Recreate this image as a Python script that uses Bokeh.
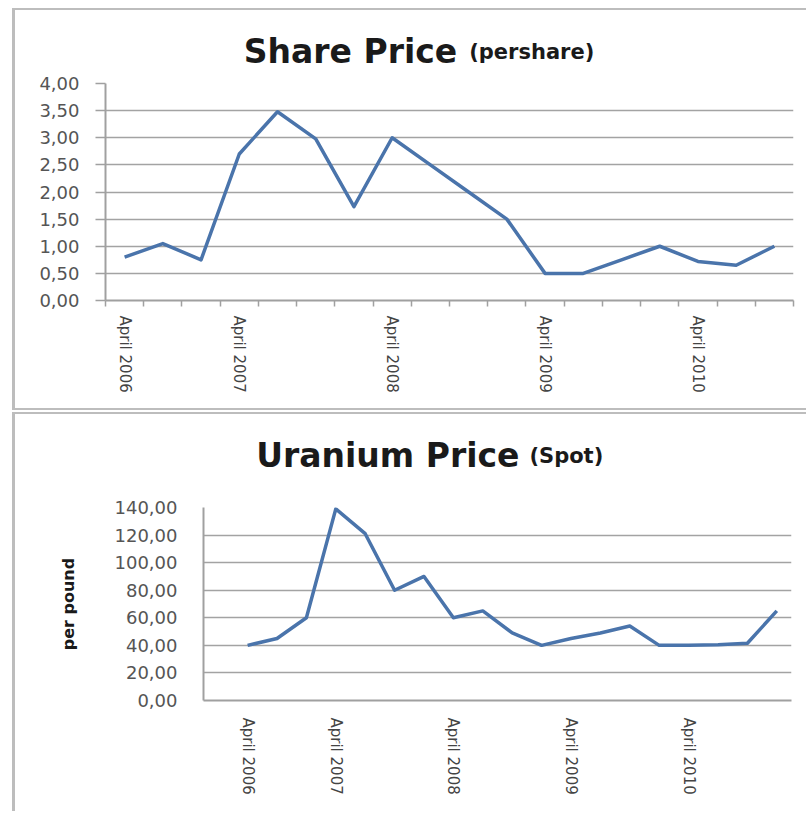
from bokeh.plotting import figure
from bokeh.models import (Range1d, FixedTicker, CustomJSTickFormatter,
                          ColumnDataSource)
from bokeh.embed import file_html
from bokeh.resources import INLINE
from bokeh.core.properties import value

# ---------------- data ----------------
share_price = [0.80, 1.05, 0.75, 2.70, 3.48, 2.98, 1.73, 3.00, 2.50,
               2.00, 1.50, 0.50, 0.50, 0.75, 1.00, 0.72, 0.65, 1.00]
uranium_price = [40, 45, 60, 139, 121, 80, 90, 60, 65, 49,
                 40, 45, 49, 54, 40, 40, 40.5, 41.5, 65]
x_labels = ["April 2006", "April 2007", "April 2008", "April 2009", "April 2010"]
x_label_index = [0, 3, 7, 11, 15]
share_ticks = [0, 0.5, 1, 1.5, 2, 2.5, 3, 3.5, 4]
uranium_ticks = [0, 20, 40, 60, 80, 100, 120, 140]
share_title = ["Share Price", "(pershare)"]
uranium_title = ["Uranium Price", "(Spot)"]
uranium_axis_label = "per pound"

LINE = "#4a74ab"
GRID = "#a3a3a3"
AXIS = "#a0a0a0"
BORDER = "2px solid #bdbdbd"
BORDER_L = "3px solid #bdbdbd"
TICKFONT = "DejaVu Sans"
TITLEFONT = "DejaVu Sans"
W = 794

xfmt_code = """
const i = pos.indexOf(Math.round(tick));
return i >= 0 ? labels[i] : '';
"""
yfmt_code = "return tick.toFixed(2).replace('.', ',');"


def title_fig(h, canvas_h, texts, x_right, x_left, y_base, styles):
    t = figure(width=W, height=h, output_backend="svg", toolbar_location=None,
               title=None,
               x_range=Range1d(0, W - 3), y_range=Range1d(0, canvas_h),
               x_axis_type=None, y_axis_type=None,
               min_border=0, min_border_left=0, min_border_right=0,
               min_border_top=0, min_border_bottom=0)
    t.outline_line_color = None
    t.xgrid.grid_line_color = None
    t.ygrid.grid_line_color = None
    t.styles = styles
    t.text(x=[x_right], y=[y_base], text=[texts[0]], text_align="right",
           text_baseline="alphabetic", text_font=value(TITLEFONT),
           text_font_size="33px", text_font_style="bold", text_color="#1a1a1a")
    t.text(x=[x_left], y=[y_base], text=[texts[1]], text_align="left",
           text_baseline="alphabetic", text_font=value(TITLEFONT),
           text_font_size="21px", text_font_style="bold", text_color="#1a1a1a")
    return t


def style_common(p):
    p.outline_line_color = None
    p.xgrid.grid_line_color = None
    p.ygrid.grid_line_color = GRID
    p.ygrid.grid_line_width = 1.5
    for ax in (p.xaxis[0], p.yaxis[0]):
        ax.axis_line_color = AXIS
        ax.axis_line_width = 2
        ax.major_tick_line_color = AXIS
        ax.minor_tick_line_color = AXIS
        ax.major_tick_line_width = 1.5
        ax.minor_tick_line_width = 1.5
    p.yaxis.major_label_text_font = TICKFONT
    p.yaxis.major_label_text_font_size = "18px"
    p.yaxis.major_label_text_color = "#555555"
    p.xaxis.major_label_text_font = TICKFONT
    p.xaxis.major_label_text_font_size = "15px"
    p.xaxis.major_label_text_color = "#444444"
    p.xaxis.major_label_orientation = "vertical"


# ---------------- top: share price ----------------
t1 = title_fig(64, 62, share_title, 440, 452, 22,
               {"margin-top": "8px", "margin-left": "12px",
                "border-top": BORDER, "border-left": BORDER_L})

n1 = len(share_price)
p1 = figure(width=W, height=338, output_backend="svg", toolbar_location=None,
            x_range=Range1d(-0.5, n1 - 0.5), y_range=Range1d(0, 4),
            min_border_left=90, min_border_right=16, min_border_top=11,
            min_border_bottom=110)
p1.styles = {"margin-left": "12px", "border-left": BORDER_L, "border-bottom": BORDER}
style_common(p1)
src1 = ColumnDataSource(dict(x=list(range(n1)), y=share_price))
p1.line("x", "y", source=src1, line_color=LINE, line_width=3.5, line_join="round")

p1.yaxis.ticker = FixedTicker(ticks=share_ticks)
p1.yaxis.formatter = CustomJSTickFormatter(code=yfmt_code)
p1.yaxis.major_tick_out = 10
p1.yaxis.major_tick_in = 0
p1.yaxis.minor_tick_out = 0
p1.yaxis.minor_tick_in = 0
p1.yaxis.major_label_standoff = 16

p1.xaxis.ticker = FixedTicker(ticks=x_label_index,
                              minor_ticks=[i - 0.5 for i in range(n1 + 1)])
p1.xaxis.formatter = CustomJSTickFormatter(args=dict(labels=x_labels, pos=x_label_index),
                                           code=xfmt_code)
p1.xaxis.major_tick_out = 0
p1.xaxis.major_tick_in = 0
p1.xaxis.minor_tick_out = 6
p1.xaxis.minor_tick_in = 0
p1.xaxis.major_label_standoff = 9

# ---------------- bottom: uranium price ----------------
t2 = title_fig(78, 76, uranium_title, 502, 512, 36,
               {"margin-top": "2px", "margin-left": "12px",
                "border-top": BORDER, "border-left": BORDER_L})

n2 = len(uranium_price)
p2 = figure(width=W, height=321, output_backend="svg", toolbar_location=None,
            x_range=Range1d(-1.5, n2 - 0.5), y_range=Range1d(0, 140),
            min_border_left=188, min_border_right=18, min_border_top=17,
            min_border_bottom=111)
p2.styles = {"margin-left": "12px", "border-left": BORDER_L}
style_common(p2)
src2 = ColumnDataSource(dict(x=list(range(n2)), y=uranium_price))
p2.line("x", "y", source=src2, line_color=LINE, line_width=3.5, line_join="round")

p2.yaxis.ticker = FixedTicker(ticks=uranium_ticks)
p2.yaxis.formatter = CustomJSTickFormatter(code=yfmt_code)
p2.yaxis.major_tick_out = 0
p2.yaxis.major_tick_in = 0
p2.yaxis.minor_tick_out = 0
p2.yaxis.minor_tick_in = 0
p2.yaxis.major_label_standoff = 26
p2.yaxis.axis_label = uranium_axis_label
p2.yaxis.axis_label_text_font = TITLEFONT
p2.yaxis.axis_label_text_font_size = "16px"
p2.yaxis.axis_label_text_font_style = "bold"
p2.yaxis.axis_label_text_color = "#1a1a1a"
p2.yaxis.axis_label_standoff = 34

p2.xaxis.ticker = FixedTicker(ticks=x_label_index)
p2.xaxis.formatter = CustomJSTickFormatter(args=dict(labels=x_labels, pos=x_label_index),
                                           code=xfmt_code)
p2.xaxis.major_tick_out = 0
p2.xaxis.major_tick_in = 0
p2.xaxis.minor_tick_out = 0
p2.xaxis.minor_tick_in = 0
p2.xaxis.major_label_standoff = 17

open("out.html", "w").write(file_html([t1, p1, t2, p2], INLINE))
